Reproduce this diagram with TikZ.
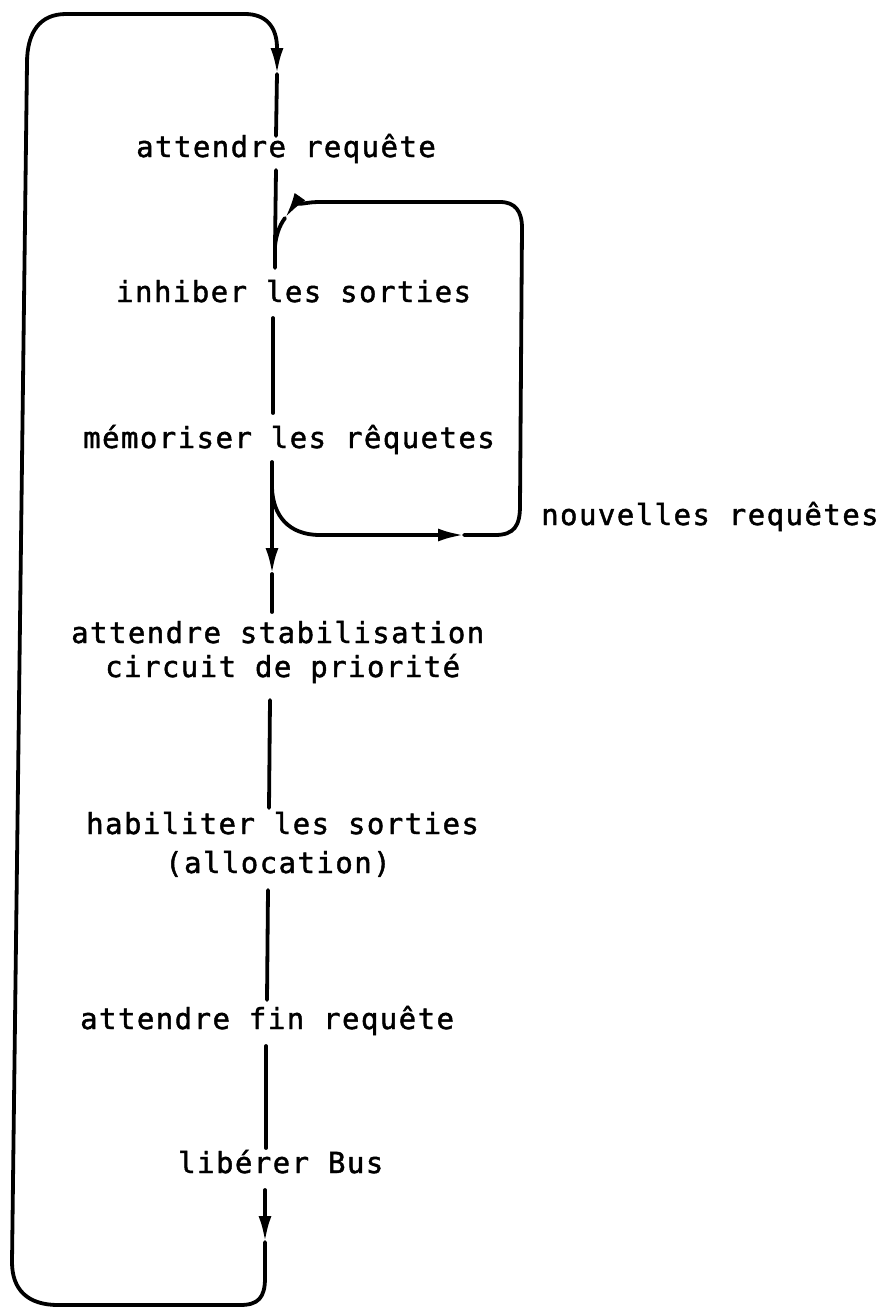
\documentclass[tikz,border=0pt]{standalone}
\usepackage{fontspec}
\newfontfamily\plotfont{DejaVu Sans Mono}[LetterSpace=5,FakeBold=1.5]
\usetikzlibrary{arrows.meta}
\begin{document}
\begin{tikzpicture}[x=1pt,y=-1pt,
  lbl/.style={anchor=base west,inner sep=0pt,font=\plotfont\fontsize{29}{35}\selectfont},
  flow/.style={line width=3.8pt,line cap=round,line join=round},
  tipped/.style={flow,-{Latex[length=26pt,width=13pt]}}]
\useasboundingbox (0,0) rectangle (882,1310);

% states
\node[lbl] (s1)  at (136,157)  {attendre requête};
\node[lbl] (s2)  at (116,302)  {inhiber les sorties};
\node[lbl] (s3)  at (83,448)   {mémoriser les rêquetes};
\node[lbl] (s4a) at (71,643)   {attendre stabilisation};
\node[lbl] (s4b) at (105,677)  {circuit de priorité};
\node[lbl] (s5a) at (86,834)   {habiliter les sorties};
\node[lbl] (s5b) at (165,873)  {(allocation)};
\node[lbl] (s6)  at (80,1029)  {attendre fin requête};
\node[lbl] (s7)  at (178,1173) {libérer Bus};
\node[lbl] (nr)  at (541,525)  {nouvelles requêtes};

% connector end points
\coordinate (t0) at (277,74);
\coordinate (a1) at (276,136);
\coordinate (b0) at (276,170);
\coordinate (j1) at (275,246);
\coordinate (b1) at (275,268);
\coordinate (c0) at (273,318);
\coordinate (c1) at (273,413);
\coordinate (d0) at (272,462);
\coordinate (j2) at (272,488);
\coordinate (d2) at (272,574);
\coordinate (d1) at (272,612);
\coordinate (e0) at (270,700);
\coordinate (e1) at (269,808);
\coordinate (f0) at (268,890);
\coordinate (f1) at (267,1000);
\coordinate (g0) at (266,1046);
\coordinate (g1) at (266,1148);
\coordinate (h0) at (265,1190);
\coordinate (h1) at (265,1242);
\coordinate (r1) at (464,535);
\coordinate (r2) at (285,218);

% main chain
\draw[flow] (t0) -- (a1);
\draw[flow] (b0) -- (j1) -- (b1);
\draw[flow] (c0) -- (c1);
\draw[tipped] (d0) -- (j2) -- (d2);
\draw[flow] (d2) -- (d1);
\draw[flow] (e0) -- (e1);
\draw[flow] (f0) -- (f1);
\draw[flow] (g0) -- (g1);
\draw[tipped] (h0) -- (h1);

% outer loop back to the start
\draw[tipped] (h1) -- (265,1278) .. controls (265,1298) and (258,1305) .. (240,1305)
  -- (58,1305) .. controls (28,1305) and (12,1290) .. (12,1262)
  -- (27,63) .. controls (27,32) and (40,14) .. (66,14)
  -- (245,14) .. controls (266,14) and (277,27) .. (277,48) -- (t0);

% inner loop: new requests
\draw[tipped] (j2) .. controls (273,515) and (288,535) .. (320,535) -- (r1);
\draw[tipped] (r1) -- (495,535) .. controls (514,535) and (520,526) .. (520,506)
  -- (522,228) .. controls (522,211) and (515,202) .. (500,202)
  -- (318,202) .. controls (304,202) and (292,208) .. (r2);
\draw[flow] (r2) .. controls (279,226) and (276,236) .. (j1);
\end{tikzpicture}
\end{document}
